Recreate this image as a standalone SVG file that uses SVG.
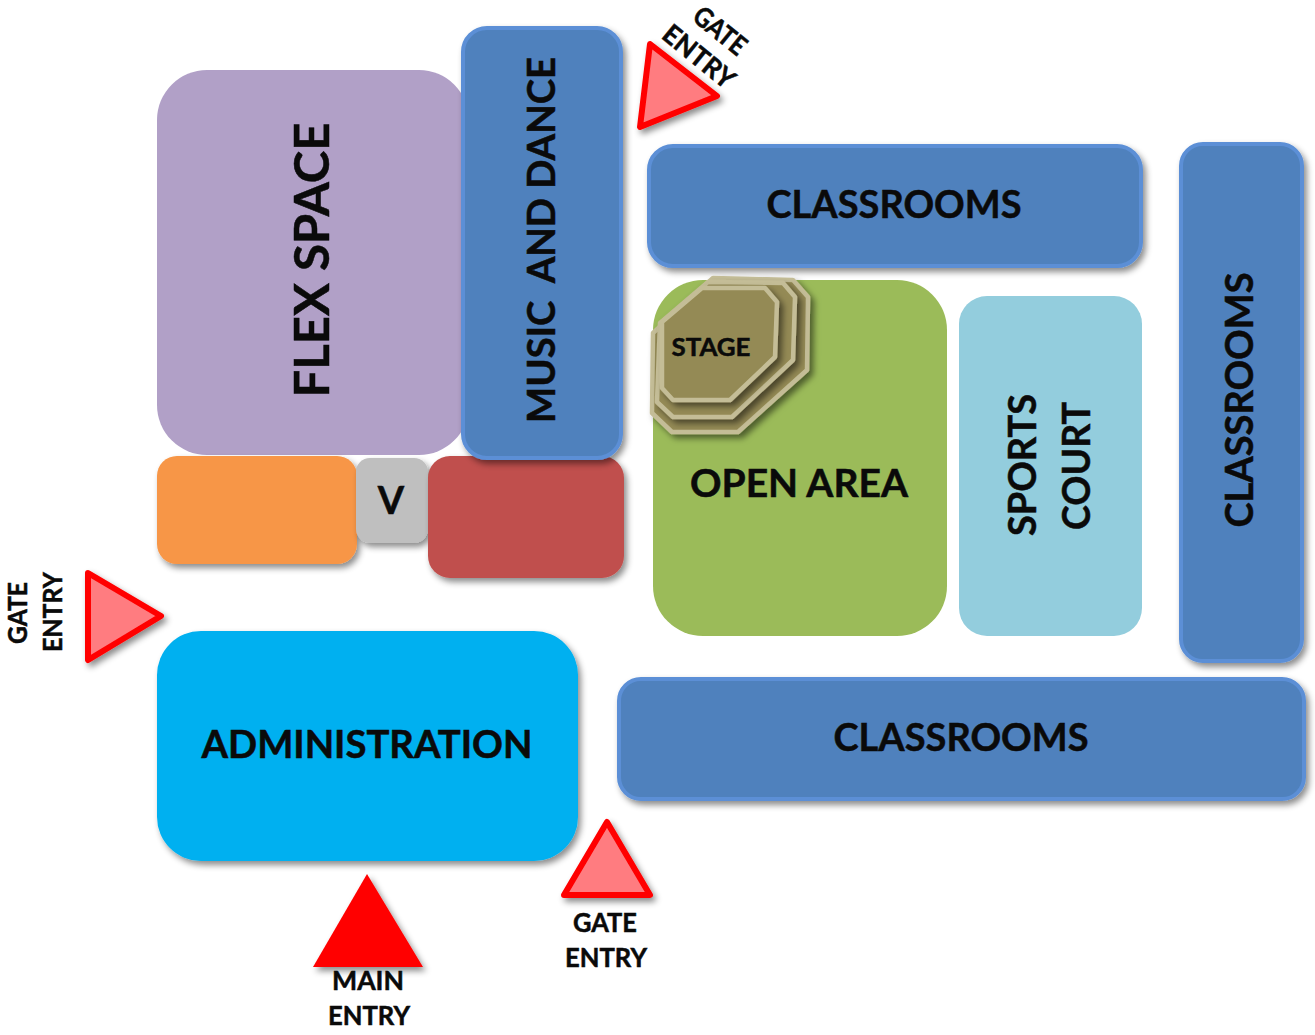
<svg xmlns="http://www.w3.org/2000/svg" width="1315" height="1035" viewBox="0 0 1315 1035">
<style>
text{font-family:Lato,"Open Sans","Liberation Sans",sans-serif;font-weight:700;fill:#0a0a0a;stroke:#0a0a0a;stroke-width:.5;text-anchor:middle}
.blue{fill:#4f81bd;stroke:#5b8fd6;stroke-width:4;filter:url(#sh)}
.tri{fill:#ff7c80;stroke:#ff0000;stroke-width:6;stroke-linejoin:round;filter:url(#sh)}
.st{fill:#948a54;stroke:#c4bd97;stroke-width:4.5;stroke-linejoin:round;filter:url(#sh2)}
.l{font-size:38px}.s{font-size:27px}
</style>
<defs>
<filter id="sh" x="-20%" y="-20%" width="140%" height="140%"><feDropShadow dx="3" dy="4" stdDeviation="3" flood-color="#000" flood-opacity=".45"/></filter>
<filter id="sh2" x="-20%" y="-20%" width="140%" height="140%"><feDropShadow dx="4" dy="4" stdDeviation="3" flood-color="#000" flood-opacity=".5"/></filter>
</defs>
<g id="connectors"/>
<g id="flex-space"><rect x="157" y="70" width="312" height="385" rx="50" fill="#b1a0c7"/><text transform="translate(329,260) rotate(-90)" style="font-size:48px" textLength="275" lengthAdjust="spacingAndGlyphs">FLEX SPACE</text></g>
<g id="orange"><rect x="157" y="456" width="200" height="108" rx="20" fill="#f79646" filter="url(#sh)"/></g>
<g id="v"><rect x="356" y="458" width="72" height="85" rx="14" fill="#bfbfbf" filter="url(#sh)"/><text x="391" y="514" style="font-size:38px">V</text></g>
<g id="red"><rect x="428" y="456" width="196" height="122" rx="22" fill="#c0504d" filter="url(#sh)"/></g>
<g id="music-and-dance"><rect class="blue" x="463" y="28" width="158" height="430" rx="24"/><text class="l" transform="translate(555,240) rotate(-90)" textLength="366" lengthAdjust="spacingAndGlyphs" xml:space="preserve">MUSIC  AND DANCE</text></g>
<g id="gate-entry-top"><polygon class="tri" points="650,44 717,96 640,127"/><text class="s" transform="translate(714,38) rotate(39)" textLength="60" lengthAdjust="spacingAndGlyphs">GATE</text><text class="s" transform="translate(693,64) rotate(39)" textLength="84" lengthAdjust="spacingAndGlyphs">ENTRY</text></g>
<g id="classrooms-top"><rect class="blue" x="649" y="146" width="492" height="120" rx="24"/><text class="l" x="894" y="218" textLength="255" lengthAdjust="spacingAndGlyphs">CLASSROOMS</text></g>
<g id="classrooms-right"><rect class="blue" x="1181" y="144" width="121" height="517" rx="22"/><text class="l" transform="translate(1253,400) rotate(-90)" textLength="255" lengthAdjust="spacingAndGlyphs">CLASSROOMS</text></g>
<g id="open-area"><rect x="653" y="280" width="294" height="356" rx="50" fill="#9bbb59"/><text class="l" x="799" y="497" textLength="218" lengthAdjust="spacingAndGlyphs">OPEN AREA</text></g>
<g id="stage">
<polygon class="st" points="713,278 793,280 808,297 807,370 738,432 672,432 652,413 653,333"/>
<polygon class="st" points="708,282 783,283 795,297 793,360 732,417 673,417 657,402 660,323"/>
<polygon class="st" points="702,288 765,288 777,302 775,357 730,400 673,400 662,388 662,322"/>
<text x="711" y="356" style="font-size:25px" textLength="79" lengthAdjust="spacingAndGlyphs">STAGE</text></g>
<g id="sports-court"><rect x="959" y="296" width="183" height="340" rx="28" fill="#93cddd"/><text class="l" transform="translate(1036,465) rotate(-90)" textLength="142" lengthAdjust="spacingAndGlyphs">SPORTS</text><text class="l" transform="translate(1090,466) rotate(-90)" textLength="128" lengthAdjust="spacingAndGlyphs">COURT</text></g>
<g id="gate-entry-left"><polygon class="tri" points="88,573 161,616 88,660"/><text class="s" transform="translate(27,613) rotate(-90)" textLength="62" lengthAdjust="spacingAndGlyphs">GATE</text><text class="s" transform="translate(62,612) rotate(-90)" textLength="80" lengthAdjust="spacingAndGlyphs">ENTRY</text></g>
<g id="administration"><rect x="157" y="631" width="421" height="230" rx="44" fill="#00b0f0" filter="url(#sh)"/><text class="l" x="367" y="758" textLength="331" lengthAdjust="spacingAndGlyphs">ADMINISTRATION</text></g>
<g id="classrooms-bottom"><rect class="blue" x="619" y="679" width="685" height="120" rx="22"/><text class="l" x="961" y="751" textLength="255" lengthAdjust="spacingAndGlyphs">CLASSROOMS</text></g>
<g id="gate-entry-bottom"><polygon class="tri" points="607,822 650,895 564,895"/><text class="s" x="605" y="932" textLength="64" lengthAdjust="spacingAndGlyphs">GATE</text><text class="s" x="606" y="967" textLength="82" lengthAdjust="spacingAndGlyphs">ENTRY</text></g>
<g id="main-entry"><polygon points="367,874 423,967 313,967" fill="#ff0000" filter="url(#sh)"/><text class="s" x="368" y="990" textLength="72" lengthAdjust="spacingAndGlyphs">MAIN</text><text class="s" x="369" y="1025" textLength="82" lengthAdjust="spacingAndGlyphs">ENTRY</text></g>
</svg>
